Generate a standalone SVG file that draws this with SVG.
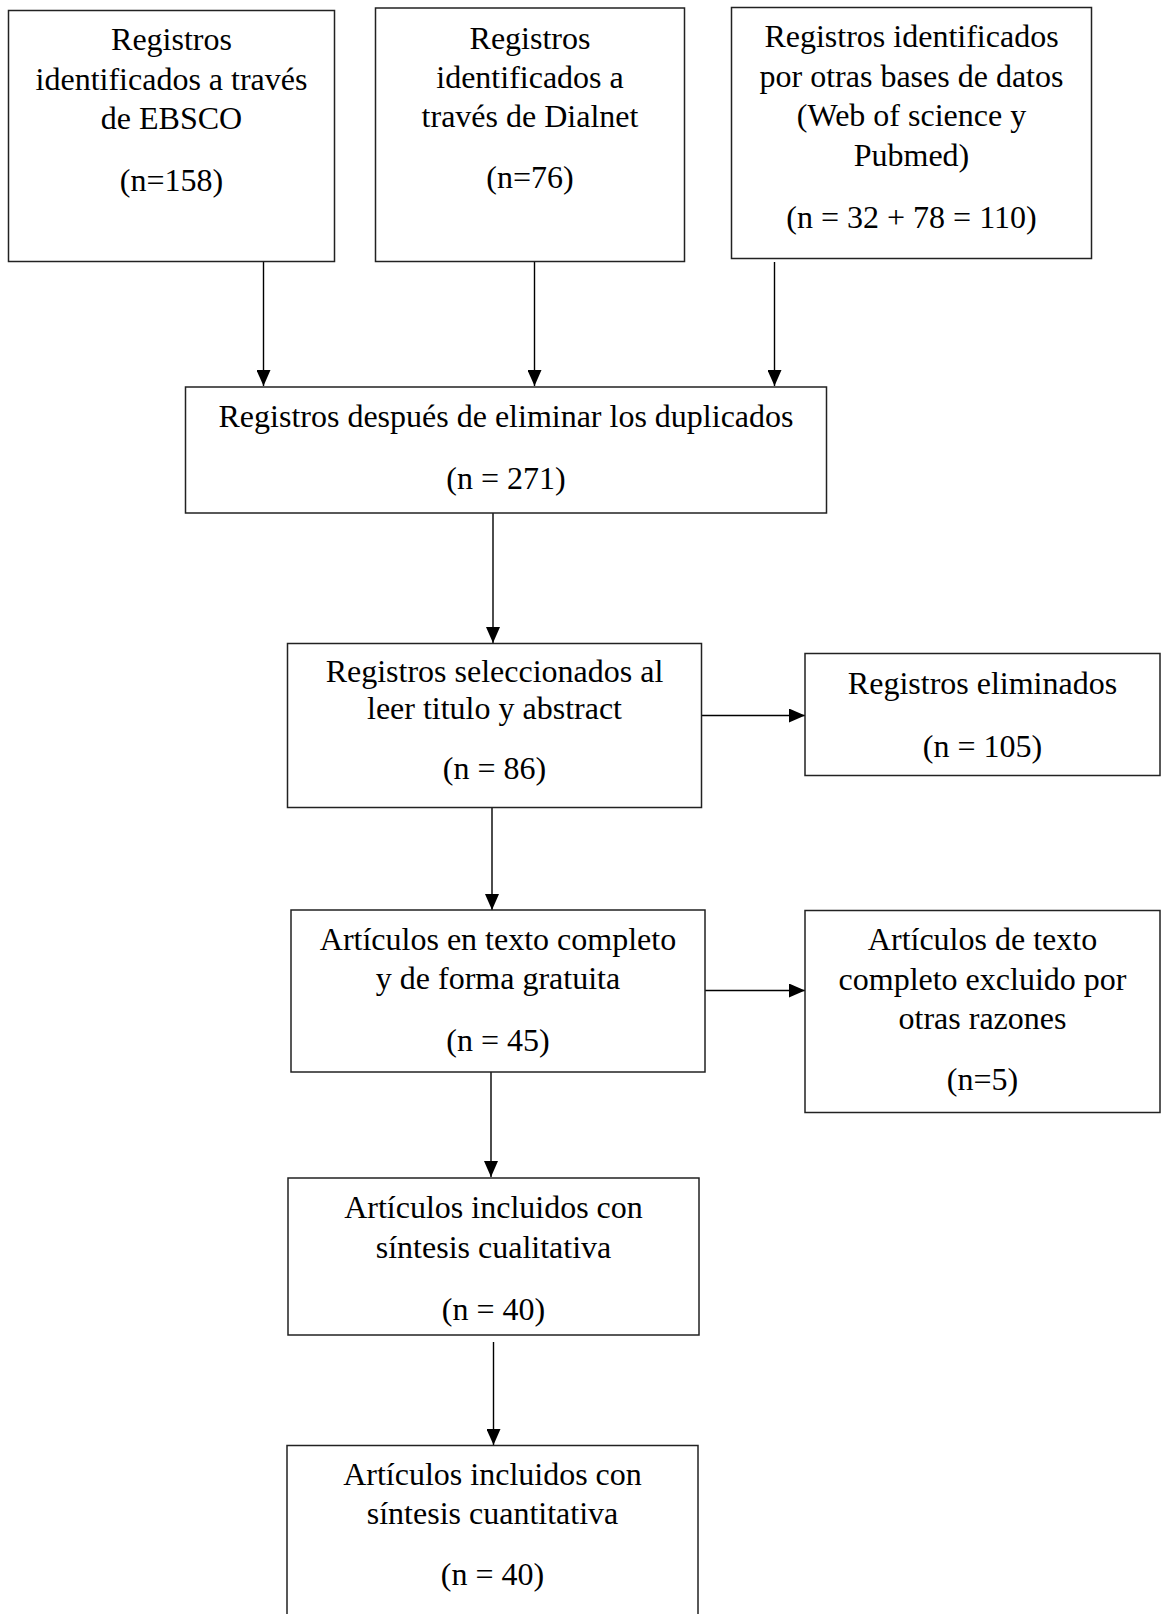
<svg xmlns="http://www.w3.org/2000/svg" width="1161" height="1614" viewBox="0 0 1161 1614">
<style>
.box{fill:#fff;stroke:#222;stroke-width:1.5}
.t{font-family:"Liberation Serif","Times New Roman",serif;font-size:32px;fill:#000;text-anchor:middle}
.c{stroke:#000;stroke-width:1.4;fill:none;marker-end:url(#ah)}
</style>
<defs>
<marker id="ah" markerWidth="16" markerHeight="14" refX="16" refY="7" orient="auto" markerUnits="userSpaceOnUse">
<path d="M0,0 L16,7 L0,14 z" fill="#000"/>
</marker>
</defs>
<rect width="1161" height="1614" fill="#fff"/>
<g id="connectors">
<line class="c" x1="263.5" y1="262" x2="263.5" y2="386"/>
<line class="c" x1="534.5" y1="262" x2="534.5" y2="386"/>
<line class="c" x1="774.5" y1="262" x2="774.5" y2="386"/>
<line class="c" x1="493" y1="513" x2="493" y2="643"/>
<line class="c" x1="701.5" y1="715.5" x2="805" y2="715.5"/>
<line class="c" x1="492" y1="808" x2="492" y2="910"/>
<line class="c" x1="705" y1="990.5" x2="805" y2="990.5"/>
<line class="c" x1="491" y1="1072" x2="491" y2="1177"/>
<line class="c" x1="493.5" y1="1342" x2="493.5" y2="1445"/>
</g>
<g id="n_ebsco">
<rect class="box" x="8.5" y="10.5" width="326" height="251"/>
<text class="t" x="171.5" y="50">Registros</text>
<text class="t" x="171.5" y="89.5">identificados a través</text>
<text class="t" x="171.5" y="129">de EBSCO</text>
<text class="t" x="171.5" y="191">(n=158)</text>
</g>
<g id="n_dialnet">
<rect class="box" x="375.5" y="8" width="309" height="253.5"/>
<text class="t" x="530" y="48.5">Registros</text>
<text class="t" x="530" y="87.5">identificados a</text>
<text class="t" x="530" y="127">través de Dialnet</text>
<text class="t" x="530" y="188">(n=76)</text>
</g>
<g id="n_otras">
<rect class="box" x="731.5" y="7.5" width="360" height="251"/>
<text class="t" x="911.5" y="47">Registros identificados</text>
<text class="t" x="911.5" y="86.5">por otras bases de datos</text>
<text class="t" x="911.5" y="126">(Web of science y</text>
<text class="t" x="911.5" y="165.5">Pubmed)</text>
<text class="t" x="911.5" y="228">(n = 32 + 78 = 110)</text>
</g>
<g id="n_duplicados">
<rect class="box" x="185.5" y="387" width="641" height="126"/>
<text class="t" x="506" y="427">Registros después de eliminar los duplicados</text>
<text class="t" x="506" y="488.5">(n = 271)</text>
</g>
<g id="n_seleccionados">
<rect class="box" x="287.5" y="643.5" width="414" height="164"/>
<text class="t" x="494.5" y="682">Registros seleccionados al</text>
<text class="t" x="494.5" y="718.5">leer titulo y abstract</text>
<text class="t" x="494.5" y="778.5">(n = 86)</text>
</g>
<g id="n_eliminados">
<rect class="box" x="805" y="653.5" width="355" height="122"/>
<text class="t" x="982.5" y="694">Registros eliminados</text>
<text class="t" x="982.5" y="756.5">(n = 105)</text>
</g>
<g id="n_completo">
<rect class="box" x="291" y="910" width="414" height="162"/>
<text class="t" x="498" y="949.5">Artículos en texto completo</text>
<text class="t" x="498" y="988.5">y de forma gratuita</text>
<text class="t" x="498" y="1050.5">(n = 45)</text>
</g>
<g id="n_excluido">
<rect class="box" x="805" y="910.5" width="355" height="202"/>
<text class="t" x="982.5" y="950">Artículos de texto</text>
<text class="t" x="982.5" y="990">completo excluido por</text>
<text class="t" x="982.5" y="1028.5">otras razones</text>
<text class="t" x="982.5" y="1090">(n=5)</text>
</g>
<g id="n_cualitativa">
<rect class="box" x="288" y="1178" width="411" height="157"/>
<text class="t" x="493.5" y="1218">Artículos incluidos con</text>
<text class="t" x="493.5" y="1257.5">síntesis cualitativa</text>
<text class="t" x="493.5" y="1319.5">(n = 40)</text>
</g>
<g id="n_cuantitativa">
<rect class="box" x="287" y="1445.5" width="411" height="180"/>
<text class="t" x="492.5" y="1484.5">Artículos incluidos con</text>
<text class="t" x="492.5" y="1523.5">síntesis cuantitativa</text>
<text class="t" x="492.5" y="1585">(n = 40)</text>
</g>
</svg>
